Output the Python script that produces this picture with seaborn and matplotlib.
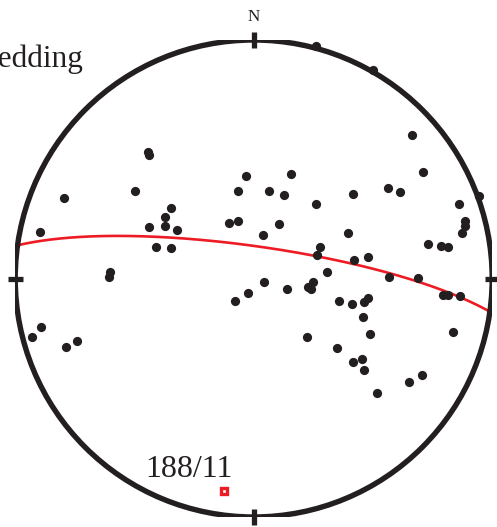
import numpy as np
import pandas as pd
import matplotlib
matplotlib.use("Agg")
import matplotlib.pyplot as plt
import seaborn as sns
from matplotlib.patches import Circle

# ---- data: projected positions of lineations on the equal-area net (east, north; primitive radius = 1)
east = [0.261, 0.500, 0.664, -0.442, -0.438, 0.709, -0.034, 0.155, -0.499, -0.794,
        -0.066, 0.065, 0.127, 0.563, 0.615, 0.418, 0.945, 0.861, 0.261, -0.348,
        -0.373, -0.438, -0.373, -0.322, -0.105, -0.065, 0.106, 0.886, 0.886, 0.875,
        -0.896, 0.040, 0.397, -0.410, -0.347, 0.278, 0.265, 0.422, 0.478, 0.730,
        0.784, 0.815, -0.603, -0.605, 0.306, 0.569, 0.690, 0.045, -0.022, -0.078,
        0.141, 0.229, 0.249, 0.242, 0.792, 0.816, 0.865, 0.356, 0.412, 0.464,
        0.481, 0.458, -0.891, -0.931, -0.740, -0.786, 0.488, 0.836, 0.222, 0.348,
        0.418, 0.454, 0.464, 0.650, 0.704, 0.518]
north = [0.975, 0.873, 0.602, 0.532, 0.518, 0.445, 0.430, 0.440, 0.367, 0.339,
         0.365, 0.365, 0.350, 0.379, 0.361, 0.354, 0.346, 0.314, 0.314, 0.294,
         0.259, 0.215, 0.220, 0.205, 0.231, 0.240, 0.230, 0.242, 0.221, 0.190,
         0.194, 0.182, 0.190, 0.133, 0.129, 0.134, 0.097, 0.078, 0.090, 0.143,
         0.138, 0.133, 0.029, 0.005, 0.029, 0.005, 0.002, -0.013, -0.060, -0.093,
         -0.044, -0.036, -0.016, -0.044, -0.069, -0.069, -0.073, -0.094, -0.108, -0.097,
         -0.081, -0.163, -0.203, -0.244, -0.263, -0.286, -0.233, -0.224, -0.245, -0.290,
         -0.349, -0.339, -0.385, -0.435, -0.406, -0.480]

# bedding pole (trend / plunge, degrees)
pole_trend = 188
pole_plunge = 11
pole_label = "188/11"
plane_label = "Bedding"
north_label = "N"

BLACK = "#231F20"
RED = "#ED1C24"

sns.set_style("white")
plt.rcParams["font.family"] = ["Liberation Serif", "DejaVu Serif"]

fig = plt.figure(figsize=(4.97, 5.27), dpi=100)
ax = fig.add_axes([15.2 / 497, 10 / 527, 477 / 497, 477 / 527])
ax.set_xlim(-1, 1)
ax.set_ylim(-1, 1)
ax.axis("off")


def eq_area(trend_deg, plunge_deg):
    t = np.radians(trend_deg)
    p = np.radians(plunge_deg)
    r = np.sqrt(1 - np.sin(p))
    return r * np.sin(t), r * np.cos(t)


# bedding great circle from pole
dd = (pole_trend + 180) % 360
dip = 90 - pole_plunge
strike = np.radians(dd - 90)
S = np.array([np.sin(strike), np.cos(strike), 0.0])
D = np.array([np.cos(np.radians(dip)) * np.sin(np.radians(dd)),
              np.cos(np.radians(dip)) * np.cos(np.radians(dd)),
              -np.sin(np.radians(dip))])
tt = np.linspace(0, np.pi, 361)
V = np.outer(np.cos(tt), S) + np.outer(np.sin(tt), D)
pl = np.degrees(np.arcsin(np.clip(-V[:, 2], -1, 1)))
tr = np.degrees(np.arctan2(V[:, 0], V[:, 1]))
gx, gy = eq_area(tr, pl)
gc = pd.DataFrame({"x": gx, "y": gy, "o": np.arange(len(gx))})
sns.lineplot(data=gc, x="x", y="y", sort=False, color=RED, lw=1.9, ax=ax,
             estimator=None, zorder=3)

# primitive circle
ax.add_patch(Circle((0, 0), 1, fill=False, ec=BLACK, lw=3.9, zorder=4))
# cardinal ticks
tl = 0.032
for ang in [0, 90, 180, 270]:
    a = np.radians(ang)
    cx, cy = np.sin(a), np.cos(a)
    ax.plot([cx * (1 - tl), cx * (1 + tl)], [cy * (1 - tl), cy * (1 + tl)],
            color=BLACK, lw=3.8, solid_capstyle="butt", zorder=5, clip_on=False)

# lineations
pts = pd.DataFrame({"east": east, "north": north})
sns.scatterplot(data=pts, x="east", y="north", s=44, color=BLACK, linewidth=0,
                ax=ax, zorder=6, clip_on=False)

# pole
px, py = eq_area(pole_trend, pole_plunge)
ax.plot([px], [py], marker="s", ms=4.6, mfc="white", mec=RED, mew=2.4,
        zorder=7, clip_on=False)

ax.text(-0.272, -0.831, pole_label, ha="center", va="baseline", fontsize=23,
        color=BLACK)
ax.text(-1.158, 0.888, plane_label, ha="left", va="baseline", fontsize=22.5,
        color=BLACK, clip_on=False)
ax.text(-0.001, 1.081, north_label, ha="center", va="baseline", fontsize=12.3,
        color=BLACK, clip_on=False)

ax.set_xlabel("")
ax.set_ylabel("")
fig.savefig("out.png", dpi=100)
